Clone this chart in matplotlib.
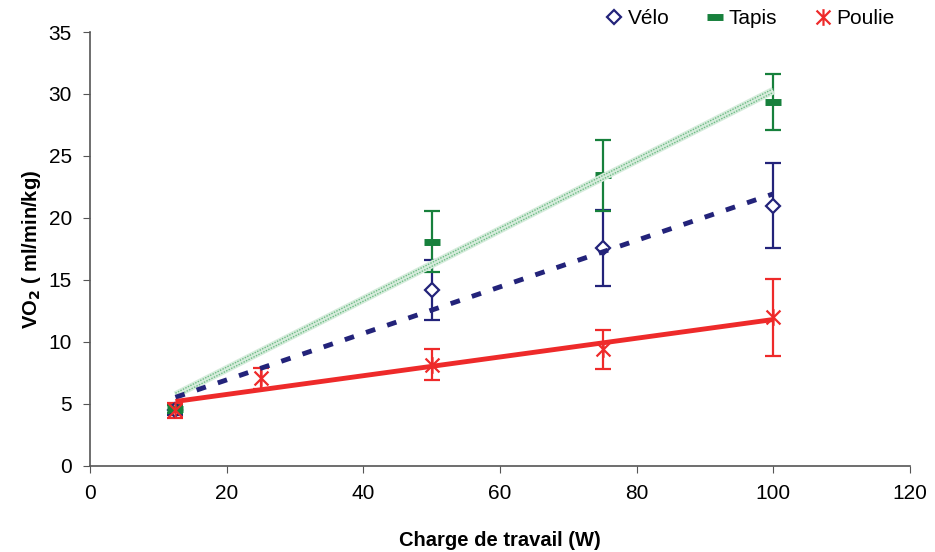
import numpy as np
import matplotlib
matplotlib.use('Agg')
import matplotlib.pyplot as plt
from matplotlib.path import Path

plt.rcParams['font.family'] = ['Liberation Sans', 'DejaVu Sans']

# values
series_names = ['Vélo', 'Tapis', 'Poulie']

x_velo = [12.5, 50, 75, 100]
y_velo = [4.5, 14.2, 17.6, 21.0]
err_velo = [0.4, 2.4, 3.05, 3.45]

x_tapis = [12.5, 50, 75, 100]
y_tapis = [4.6, 18.1, 23.45, 29.35]
err_tapis = [0.3, 2.45, 2.85, 2.25]

x_poulie = [12.5, 25, 50, 75, 100]
y_poulie = [4.5, 7.05, 8.15, 9.4, 12.0]
err_poulie = [0.6, 0.85, 1.25, 1.6, 3.1]

x_ticks = [0, 20, 40, 60, 80, 100, 120]
y_ticks = [0, 5, 10, 15, 20, 25, 30, 35]

navy = '#23237a'
green = '#17803c'
red = '#ee2a2a'

# star marker like excel: an x with a vertical bar
star = Path([(-1, -1), (1, 1), (-1, 1), (1, -1), (0, -1.2), (0, 1.2)],
            [Path.MOVETO, Path.LINETO, Path.MOVETO, Path.LINETO, Path.MOVETO, Path.LINETO])

fig = plt.figure(figsize=(9.35, 5.52), dpi=100)
ax = fig.add_axes([0.0963, 0.156, 0.877, 0.786])

#error bars
eb = dict(fmt='none', elinewidth=1.6, capsize=5.5, capthick=1.6, zorder=2)
ax.errorbar(x_velo, y_velo, yerr=err_velo, ecolor=navy, **eb)
ax.errorbar(x_tapis, y_tapis, yerr=err_tapis, ecolor=green, **eb)
ax.errorbar(x_poulie, y_poulie, yerr=err_poulie, ecolor=red, **eb)

#markers
h1, = ax.plot(x_velo, y_velo, ls='none', marker='D', ms=7, mfc='white', mec=navy, mew=1.6, zorder=2.5)
h2, = ax.plot(x_tapis, y_tapis, ls='none', marker='_', ms=12, mec=green, mew=5, zorder=2.5)
h3, = ax.plot(x_poulie, y_poulie, ls='none', marker=star, ms=12, mew=1.6, mec=red, zorder=2.5)

#linear trendlines from 12.5 to 100
xt = np.array([12.5, 100])
p_velo = np.polyfit(x_velo, y_velo, 1)
p_tapis = np.polyfit(x_tapis, y_tapis, 1)
p_poulie = np.polyfit(x_poulie, y_poulie, 1)

ax.plot(xt, np.polyval(p_tapis, xt), color='#d6ecdc', lw=5.5, solid_capstyle='butt', zorder=3)
ax.plot(xt, np.polyval(p_tapis, xt) + 0.15, color='#6dbb84', lw=1, ls=(0, (1, 1)), zorder=3)
ax.plot(xt, np.polyval(p_tapis, xt) - 0.15, color='#6dbb84', lw=1, ls=(1, (1, 1)), zorder=3)
ax.plot(xt, np.polyval(p_velo, xt), color=navy, lw=3.5, ls=(0, (2, 2.6)), zorder=3)
ax.plot(xt, np.polyval(p_poulie, xt), color=red, lw=3.5, solid_capstyle='butt', zorder=3)

ax.set_xlim(0, 120)
ax.set_ylim(0, 35)
ax.set_xticks(x_ticks)
ax.set_yticks(y_ticks)
ax.tick_params(labelsize=15, direction='out', length=5, color='#555555', pad=8)
for s in ['top', 'right']:
    ax.spines[s].set_visible(False)
for s in ['left', 'bottom']:
    ax.spines[s].set_color('#555555')
    ax.spines[s].set_linewidth(1.2)

ax.set_xlabel('Charge de travail (W)', fontsize=14.5, fontweight='bold', labelpad=20)
ax.set_ylabel('VO$_\\mathbf{2}$ ( ml/min/kg)', fontsize=14.5, fontweight='bold', labelpad=4)

fig.legend([h1, h2, h3], series_names, loc='upper right', bbox_to_anchor=(0.977, 1.017), ncol=3,
           frameon=False, fontsize=15, handletextpad=0.05, columnspacing=1.6, handlelength=1.2)

fig.savefig('out.png', dpi=100)
